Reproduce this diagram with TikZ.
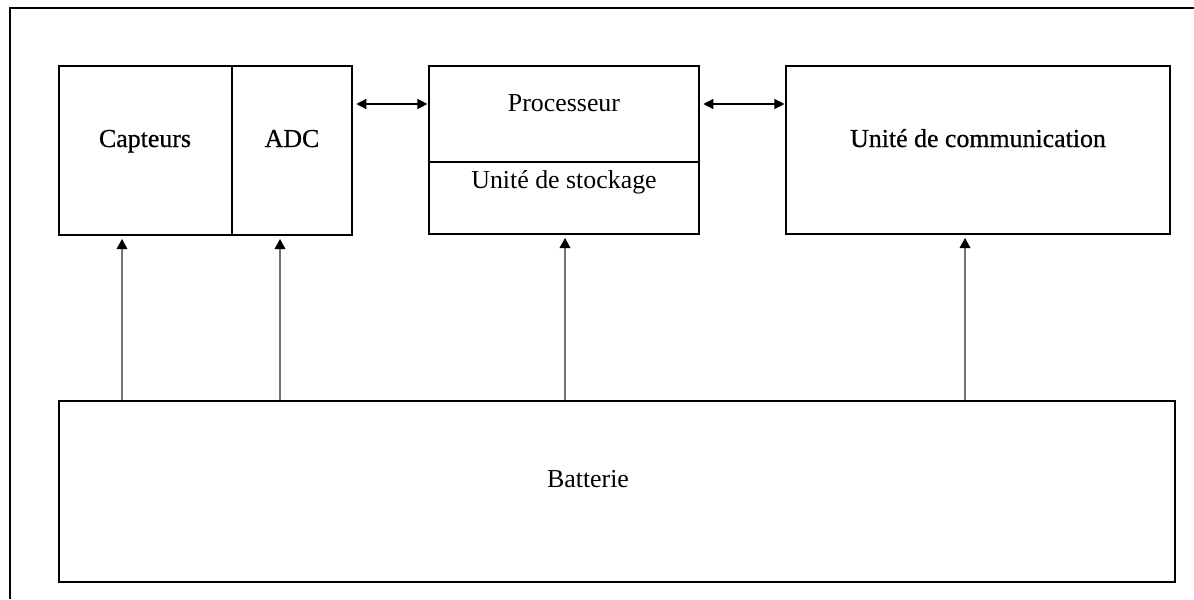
\documentclass[tikz,border=0pt]{standalone}
\usepackage{fontspec}
\setmainfont{Liberation Serif}
\newfontfamily\darkserif[FakeBold=0.6]{Liberation Serif}
\usetikzlibrary{arrows.meta,fit}
\begin{document}
\begin{tikzpicture}[x=0.75pt,y=-0.75pt,
  box/.style={draw=black,line width=2pt,inner sep=0pt},
  lbl/.style={font=\fontsize{19.4}{22}\selectfont,inner sep=0pt,anchor=base},
  dlbl/.style={lbl,font=\darkserif\fontsize{19.4}{22}\selectfont},
  pw/.style={draw=black!55,line width=1pt,-{Triangle[width=8pt,length=7.5pt,black]}},
  link/.style={draw=black,line width=1pt,{Triangle[width=7.5pt,length=7.5pt]}-{Triangle[width=7.5pt,length=7.5pt]}}]
\useasboundingbox (0,0) rectangle (1194,599);
% outer frame (top and left sides)
\draw[line width=2pt] (10,599) -- (10,8) -- (1194,8);
% blocks
\node[box,fit={(59,66) (232,235)}] (cap) {};
\node[box,fit={(232,66) (352,235)}] (adc) {};
\node[box,fit={(429,66) (699,162)}] (proc) {};
\node[box,fit={(429,162) (699,234)}] (stock) {};
\node[box,fit={(786,66) (1170,234)}] (comm) {};
\node[box,fit={(59,401) (1175,582)}] (batt) {};
% labels (placed by baseline)
\node[dlbl] (tcap) at (145,147) {Capteurs};
\node[dlbl] (tadc) at (292,147) {ADC};
\node[lbl] (tproc) at (564,112) {Processeur};
\node[lbl] (tstock) at (564,188) {Unité de stockage};
\node[dlbl] (tcomm) at (978,147) {Unité de communication};
\node[lbl] (tbatt) at (588,487) {Batterie};
% data links
\draw[link] ([xshift=2.2pt]adc.east |- 0,104) -- ([xshift=-0.2pt]proc.west |- 0,104);
\draw[link] ([xshift=2.2pt]proc.east |- 0,104) -- ([xshift=-0.2pt]comm.west |- 0,104);
% power supply lines
\draw[pw] (batt.north -| 122,0) -- ([yshift=-2pt]cap.south -| 122,0);
\draw[pw] (batt.north -| 280,0) -- ([yshift=-2pt]adc.south -| 280,0);
\draw[pw] (batt.north -| 565,0) -- ([yshift=-2pt]stock.south -| 565,0);
\draw[pw] (batt.north -| 965,0) -- ([yshift=-2pt]comm.south -| 965,0);
\end{tikzpicture}
\end{document}
